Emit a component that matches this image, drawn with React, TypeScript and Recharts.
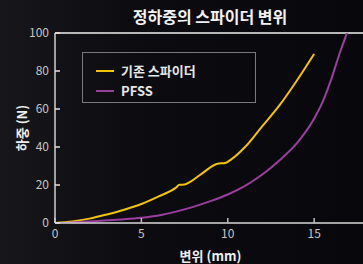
import {
  LineChart,
  Line,
  XAxis,
  YAxis,
  ReferenceLine,
} from 'recharts';

const TITLE = '정하중의 스파이더 변위';
const X_LABEL = '변위 (mm)';
const Y_LABEL = '하중 (N)';
const X_TICKS = [0, 5, 10, 15];
const Y_TICKS = [0, 20, 40, 60, 80, 100];

const SERIES_NAMES = ['기존 스파이더', 'PFSS'];
const SERIES_COLORS = ['#f2c500', '#9a3e9f'];

// 기존 스파이더
const baseX = [0, 1, 2, 3, 4, 5, 6, 7, 7.2, 7.5, 7.8, 8.5, 9.4, 9.85, 10.2, 11, 12, 13, 14, 15];
const baseY = [0, 0.8, 2.3, 4.5, 7, 10, 14, 18.6, 20.1, 20.2, 21.5, 26, 31.2, 31.6, 33.5, 40, 51, 62, 75, 89];

// PFSS
const pfssX = [0, 1, 2, 3, 4, 5, 6, 7, 8, 9, 10, 11, 12, 13, 14, 15, 15.5, 16, 16.5, 16.9];
const pfssY = [0, 0.3, 0.8, 1.4, 2.0, 2.8, 4, 6, 8.5, 11.5, 15, 19.5, 25.5, 33, 42, 55, 64, 76, 90, 100];

const baseData = baseX.map((x, i) => ({ x, y: baseY[i] }));
const pfssData = pfssX.map((x, i) => ({ x, y: pfssY[i] }));

const FONT = "'Noto Sans CJK KR', 'Noto Sans', sans-serif";

function LegendBox() {
  return (
    <div
      style={{
        position: 'absolute',
        left: 82,
        top: 52,
        border: '1.5px solid #7a7a7a',
        width: 174,
        height: 51,
        boxSizing: 'border-box',
        padding: '8px 0 0 13px',
        fontFamily: FONT,
      }}
    >
      {SERIES_NAMES.map((name, i) => (
        <div key={name} style={{ display: 'flex', alignItems: 'center', height: 20 }}>
          <div style={{ width: 18, height: 2, background: SERIES_COLORS[i], marginRight: 7 }} />
          <span style={{ color: '#e6e6e6', fontSize: 13, fontWeight: 600, lineHeight: '20px' }}>{name}</span>
        </div>
      ))}
    </div>
  );
}

export default function App() {
  return (
    <div
      style={{
        position: 'absolute',
        left: 0,
        top: 0,
        width: 363,
        height: 264,
        overflow: 'hidden',
        background: 'linear-gradient(90deg, #17171b 0%, #0c0c10 40%, #08080c 100%)',
        fontFamily: FONT,
      }}
    >
      <div
        style={{
          position: 'absolute',
          top: 5,
          left: 120,
          width: 180,
          textAlign: 'center',
          color: '#f2f2f2',
          fontSize: 16,
          fontWeight: 700,
          lineHeight: '22px',
          whiteSpace: 'nowrap',
        }}
      >
        {TITLE}
      </div>
      <LineChart
        width={366}
        height={264}
        margin={{ top: 33, right: 0, bottom: 11, left: 10 }}
        style={{ position: 'absolute', left: 0, top: 0 }}
      >
        <XAxis
          type="number"
          dataKey="x"
          domain={[0, 18]}
          ticks={X_TICKS}
          allowDataOverflow
          height={30}
          tickSize={-5}
          tickMargin={11}
          axisLine={{ stroke: '#d8d8d8', strokeWidth: 1.5 }}
          tickLine={{ stroke: '#bdbdbd', strokeWidth: 1.5 }}
          tick={{ fill: '#c4c4c4', fontSize: 12 }}
          label={{
            value: X_LABEL,
            position: 'insideBottom',
            offset: -8,
            fill: '#efefef',
            fontSize: 13,
            fontWeight: 700,
          }}
        />
        <YAxis
          type="number"
          domain={[0, 100]}
          ticks={Y_TICKS}
          allowDataOverflow
          width={45}
          tickSize={-5}
          tickMargin={11}
          axisLine={{ stroke: '#d0d0d0', strokeWidth: 1.5 }}
          tickLine={{ stroke: '#e0e0e0', strokeWidth: 1.5 }}
          tick={{ fill: '#c4c4c4', fontSize: 12 }}
          label={{
            value: Y_LABEL,
            angle: -90,
            position: 'center',
            dx: -10,
            fill: '#efefef',
            fontSize: 13,
            fontWeight: 700,
          }}
        />
        <ReferenceLine y={100} stroke="#f0f0f0" strokeWidth={1.5} />
        <Line
          data={baseData}
          dataKey="y"
          name={SERIES_NAMES[0]}
          type="monotone"
          stroke={SERIES_COLORS[0]}
          strokeWidth={2}
          dot={false}
          isAnimationActive={false}
        />
        <Line
          data={pfssData}
          dataKey="y"
          name={SERIES_NAMES[1]}
          type="monotone"
          stroke={SERIES_COLORS[1]}
          strokeWidth={2}
          dot={false}
          isAnimationActive={false}
        />
      </LineChart>
      <LegendBox />
    </div>
  );
}
